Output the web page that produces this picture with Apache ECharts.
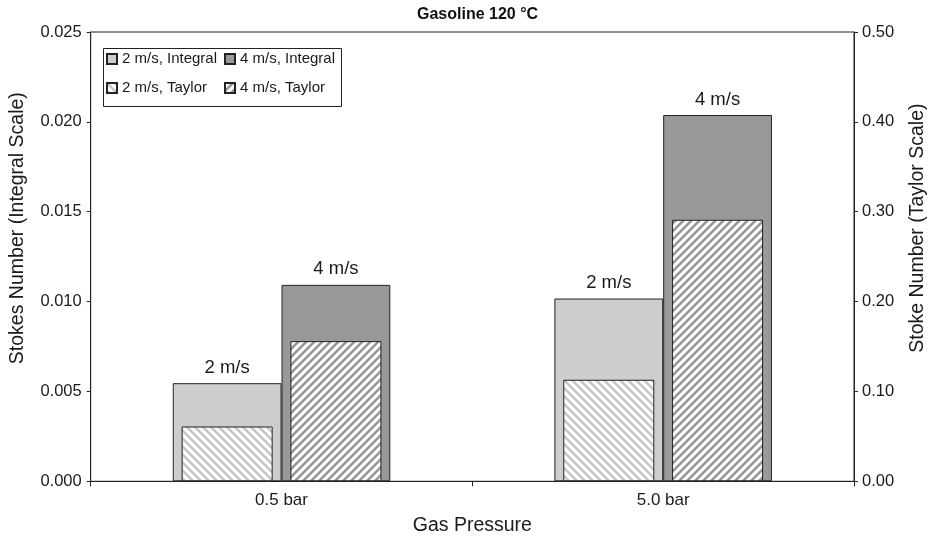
<!DOCTYPE html>
<html>
<head>
<meta charset="utf-8">
<script src="https://cdn.jsdelivr.net/npm/echarts@6/dist/echarts.min.js"></script>
<style>html,body{margin:0;padding:0;background:#fff;overflow:hidden;}#c{width:930px;height:539px;}</style>
</head>
<body>
<div id="c"></div>
<script>
var categories = ['0.5 bar', '5.0 bar'];
var integral2 = [0.00546, 0.01017];
var integral4 = [0.01093, 0.02038];
var taylor2 = [0.061, 0.113];
var taylor4 = [0.156, 0.291];
var leftTicks = {min: 0, max: 0.025, interval: 0.005};
var rightTicks = {min: 0, max: 0.5, interval: 0.1};
var seriesNames = ['2 m/s, Integral', '4 m/s, Integral', '2 m/s, Taylor', '4 m/s, Taylor'];
var barLabels = ['2 m/s', '4 m/s'];

function stripes(color, dir) {
  var s = 8;
  var c = document.createElement('canvas');
  c.width = s; c.height = s;
  var g = c.getContext('2d');
  g.fillStyle = '#fff';
  g.fillRect(0, 0, s, s);
  g.strokeStyle = color;
  g.lineWidth = 2.6;
  g.beginPath();
  if (dir === '/') {
    g.moveTo(-1, s + 1); g.lineTo(s + 1, -1);
    g.moveTo(-2, 2); g.lineTo(2, -2);
    g.moveTo(s - 2, s + 2); g.lineTo(s + 2, s - 2);
  } else {
    g.moveTo(-1, -1); g.lineTo(s + 1, s + 1);
    g.moveTo(s - 2, -2); g.lineTo(s + 2, 2);
    g.moveTo(-2, s - 2); g.lineTo(2, s + 2);
  }
  g.stroke();
  return {image: c, repeat: 'repeat'};
}

var FONT = 'Liberation Sans, Arial, Helvetica, sans-serif';
var TXT = '#1a1a1a';
var chart = echarts.init(document.getElementById('c'), null, {renderer: 'canvas'});
var border = {borderColor: '#222', borderWidth: 1};

chart.setOption({
  animation: false,
  backgroundColor: '#fff',
  textStyle: {fontFamily: FONT},
  title: {
    text: 'Gasoline 120 °C',
    left: 412, top: 2,
    textStyle: {fontFamily: FONT, fontWeight: 'bold', fontSize: 16, color: '#111'}
  },
  grid: {
    left: 90.7, right: 76, top: 32, bottom: 57.7,
    containLabel: false, outerBoundsMode: 'none',
    show: true, borderColor: '#222', borderWidth: 1, backgroundColor: 'transparent'
  },
  legend: [
    {
      orient: 'vertical', left: 106, top: 50, padding: 0, itemGap: 11,
      itemWidth: 10, itemHeight: 10, icon: 'rect',
      textStyle: {fontFamily: FONT, fontSize: 15, color: TXT, lineHeight: 18},
      data: [seriesNames[0], seriesNames[2]]
    },
    {
      orient: 'vertical', left: 224, top: 50, padding: 0, itemGap: 11,
      itemWidth: 10, itemHeight: 10, icon: 'rect',
      textStyle: {fontFamily: FONT, fontSize: 15, color: TXT, lineHeight: 18},
      data: [seriesNames[1], seriesNames[3]]
    }
  ],
  graphic: [{
    type: 'rect', left: 101, top: 46,
    shape: {width: 238, height: 58},
    style: {fill: 'none', stroke: '#222', lineWidth: 1}, z: 10
  }],
  xAxis: [
    {
      type: 'category', data: categories, position: 'bottom',
      name: 'Gas Pressure', nameLocation: 'middle', nameGap: 34,
      nameTextStyle: {fontFamily: FONT, fontSize: 19.5, color: TXT},
      axisLine: {lineStyle: {color: '#222'}},
      axisTick: {show: true, alignWithLabel: false, length: 5, lineStyle: {color: '#222'}},
      axisLabel: {fontFamily: FONT, fontSize: 17, color: TXT, margin: 11}
    },
    {
      type: 'category', data: categories, position: 'bottom', show: false
    }
  ],
  yAxis: [
    {
      type: 'value', min: leftTicks.min, max: leftTicks.max, interval: leftTicks.interval,
      position: 'left',
      name: 'Stokes Number (Integral Scale)', nameLocation: 'middle', nameGap: 63, nameRotate: 90,
      nameTextStyle: {fontFamily: FONT, fontSize: 19.5, color: TXT, padding: [0, 0, 0, 57]},
      axisLine: {show: true, lineStyle: {color: '#222'}},
      axisTick: {show: true, length: 4, lineStyle: {color: '#222'}},
      splitLine: {show: false},
      axisLabel: {fontFamily: FONT, fontSize: 16.5, color: TXT, margin: 9,
        formatter: function (v) { return v.toFixed(3); }}
    },
    {
      type: 'value', min: rightTicks.min, max: rightTicks.max, interval: rightTicks.interval,
      position: 'right',
      name: 'Stoke Number (Taylor Scale)', nameLocation: 'middle', nameGap: 54, nameRotate: 90,
      nameTextStyle: {fontFamily: FONT, fontSize: 19.5, color: TXT, padding: [0, 0, 0, 57]},
      axisLine: {show: true, lineStyle: {color: '#222'}},
      axisTick: {show: true, length: 4, lineStyle: {color: '#222'}},
      splitLine: {show: false},
      axisLabel: {fontFamily: FONT, fontSize: 16.5, color: TXT, margin: 8,
        formatter: function (v) { return v.toFixed(2); }}
    }
  ],
  series: [
    {
      name: seriesNames[0], type: 'bar', xAxisIndex: 0, yAxisIndex: 0,
      data: integral2, barWidth: '28.5%', barGap: '0%',
      itemStyle: Object.assign({color: '#cdcdcd'}, border),
      label: {show: true, position: 'top', distance: 6, formatter: barLabels[0],
        fontFamily: FONT, fontSize: 18.5, color: TXT}
    },
    {
      name: seriesNames[1], type: 'bar', xAxisIndex: 0, yAxisIndex: 0,
      data: integral4, barWidth: '28.5%', barGap: '0%',
      itemStyle: Object.assign({color: '#999999'}, border),
      label: {show: true, position: 'top', distance: 6, formatter: barLabels[1],
        fontFamily: FONT, fontSize: 18.5, color: TXT}
    },
    {
      name: seriesNames[2], type: 'bar', xAxisIndex: 1, yAxisIndex: 1,
      data: taylor2, barWidth: '23.85%', barGap: '19.5%',
      itemStyle: Object.assign({color: stripes('#c6c6c6', '\\')}, border)
    },
    {
      name: seriesNames[3], type: 'bar', xAxisIndex: 1, yAxisIndex: 1,
      data: taylor4, barWidth: '23.85%', barGap: '19.5%',
      itemStyle: Object.assign({color: stripes('#979797', '/')}, border)
    }
  ]
});
</script>
</body>
</html>
